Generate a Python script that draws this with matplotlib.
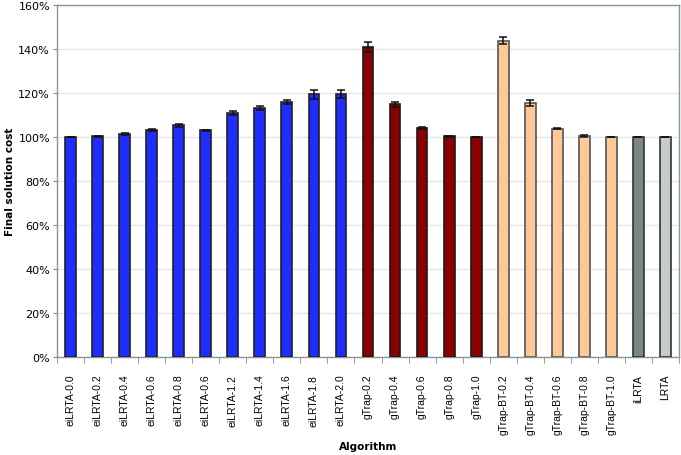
import matplotlib
matplotlib.use("Agg")
import matplotlib.pyplot as plt
from matplotlib.ticker import FuncFormatter, MultipleLocator, FixedLocator
import numpy as np

# ─── Data ────────────────────────────────────────────────────────────────────
algorithms = [
    "eiLRTA-0.0", "eiLRTA-0.2", "eiLRTA-0.4", "eiLRTA-0.6", "eiLRTA-0.8",
    "eiLRTA-0.6", "eiLRTA-1.2", "eiLRTA-1.4", "eiLRTA-1.6", "eiLRTA-1.8",
    "eiLRTA-2.0", "gTrap-0.2", "gTrap-0.4", "gTrap-0.6", "gTrap-0.8",
    "gTrap-1.0", "gTrap-BT-0.2", "gTrap-BT-0.4", "gTrap-BT-0.6",
    "gTrap-BT-0.8", "gTrap-BT-1.0", "iLRTA", "LRTA",
]
cost = [
    100.0, 100.3, 101.3, 103.2, 105.4,
    103.1, 110.8, 113.2, 116.0, 119.5,
    119.6, 140.8, 114.9, 104.1, 100.3,
    100.0, 143.8, 115.6, 103.8,
    100.6, 100.0, 100.0, 100.0,
]
err = [
    0.0, 0.3, 0.4, 0.3, 0.7,
    0.3, 1.0, 1.0, 1.0, 2.0,
    1.8, 2.2, 1.2, 0.5, 0.3,
    0.0, 1.5, 1.4, 0.3,
    0.4, 0.0, 0.0, 0.0,
]
groups = ["ei"] * 11 + ["gtrap"] * 5 + ["bt"] * 5 + ["ilrta", "lrta"]
# ─────────────────────────────────────────────────────────────────────────────

fill = {"ei": "#1f2dff", "gtrap": "#8b0000", "bt": "#ffc896",
        "ilrta": "#778886", "lrta": "#c5cdcb"}
edge = {"ei": "#222222", "gtrap": "#1a1a1a", "bt": "#555555",
        "ilrta": "#333333", "lrta": "#333333"}

fig = plt.figure(figsize=(6.81, 4.56), dpi=100)
ax = fig.add_axes([57 / 681, 1 - 358 / 456, 622 / 681, 352 / 456])

x = np.arange(len(algorithms))
ax.bar(x, cost, width=0.4,
       color=[fill[g] for g in groups],
       edgecolor=[edge[g] for g in groups], linewidth=1.2, zorder=3)
ax.errorbar(x, cost, yerr=err, fmt="none", ecolor="#111111",
            elinewidth=1.1, capsize=3, capthick=1.1, zorder=4)

ax.set_xlim(-0.5, len(algorithms) - 0.5)
ax.set_ylim(0, 160)
ax.yaxis.set_major_locator(MultipleLocator(20))
ax.yaxis.set_major_formatter(FuncFormatter(lambda v, p: f"{v:.0f}%"))
ax.grid(axis="y", color="#e2e6e6", linewidth=1, zorder=0)

ax.set_xticks(x)
ax.set_xticklabels(algorithms, rotation=90, fontsize=7.5,
                   family="Liberation Sans")
ax.tick_params(axis="x", which="major", length=0, pad=12)
ax.xaxis.set_minor_locator(FixedLocator(np.arange(-0.5, len(algorithms), 1)))
ax.tick_params(axis="x", which="minor", length=4, color="#888888")
ax.tick_params(axis="y", labelsize=8, length=3, color="#888888", pad=2)

for side in ax.spines.values():
    side.set_color("#8a9595")
    side.set_linewidth(1)

fig.text(10 / 681, 1 - 182 / 456, "Final solution cost", rotation=90,
         fontsize=7.5, fontweight="bold", ha="center", va="center")
fig.text(368 / 681, 1 - 447 / 456, "Algorithm", fontsize=7.5,
         fontweight="bold", ha="center", va="center")

fig.savefig("out.png", dpi=100)
